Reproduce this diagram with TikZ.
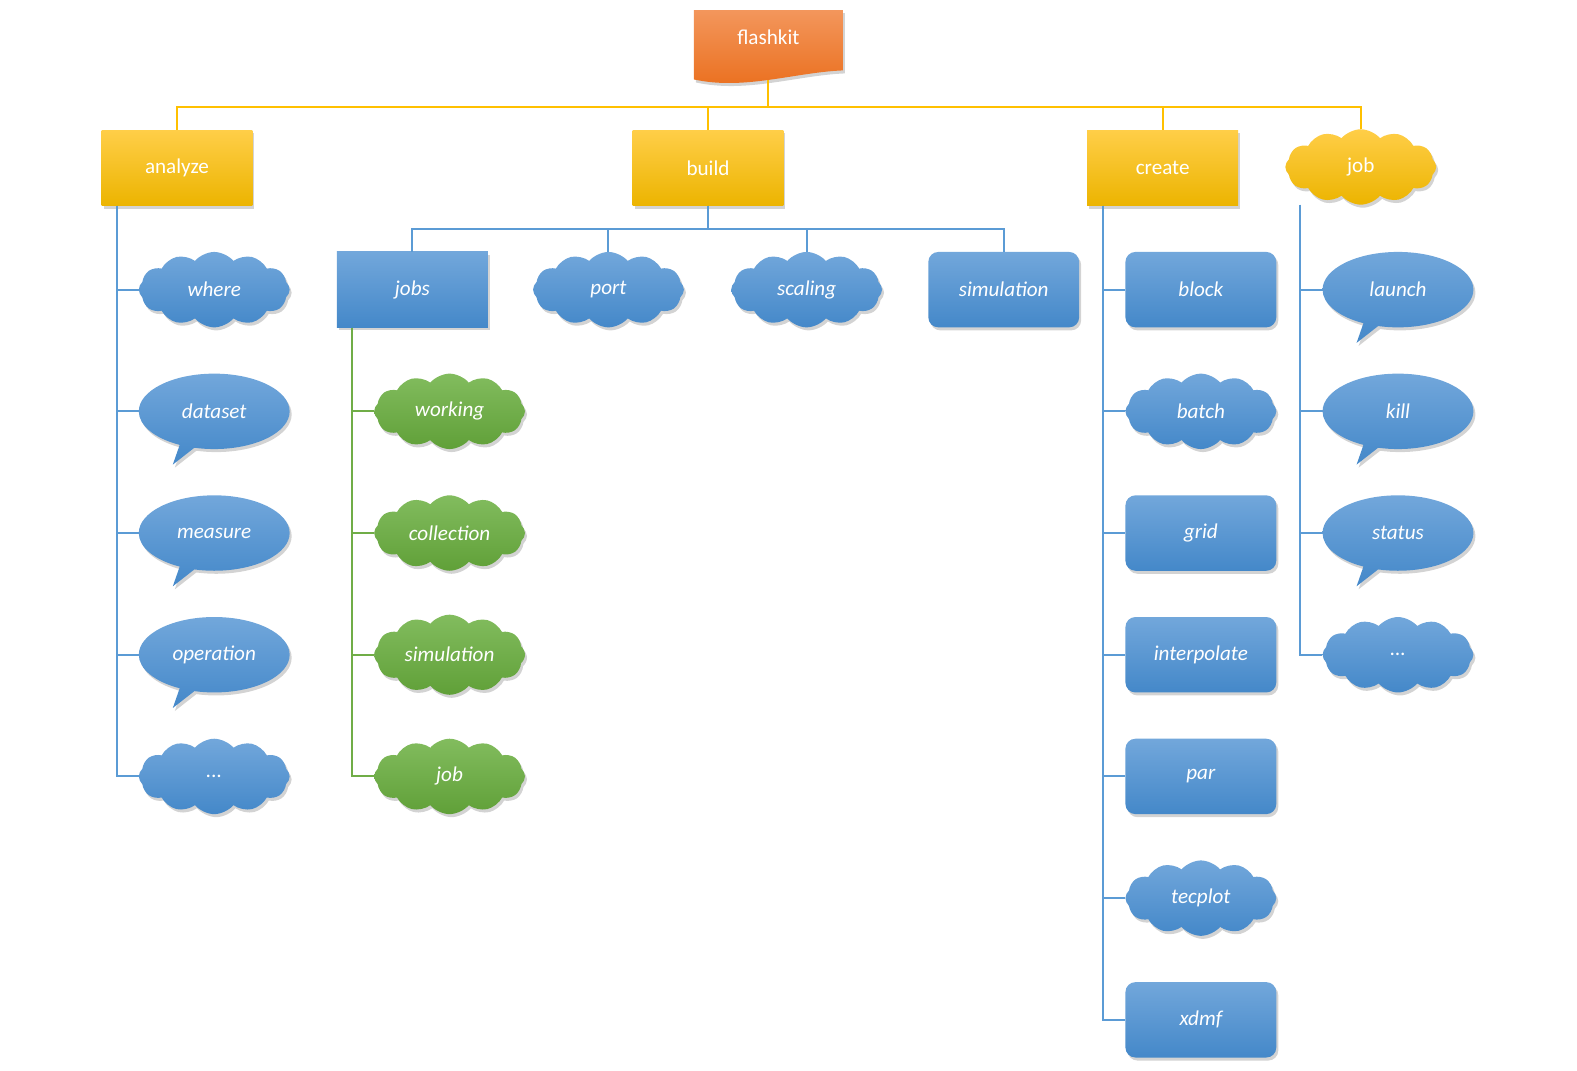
\documentclass[tikz,border=0pt]{standalone}
\usepackage{fontspec}
\setmainfont{Carlito}
\usetikzlibrary{shapes.symbols,shapes.callouts,shadows}
\definecolor{flametop}{RGB}{243,150,92}
\definecolor{flamebot}{RGB}{234,110,28}
\definecolor{goldtop}{RGB}{255,206,72}
\definecolor{goldmid}{RGB}{255,192,0}
\definecolor{goldbot}{RGB}{236,180,0}
\definecolor{skytop}{RGB}{114,167,219}
\definecolor{skymid}{RGB}{88,153,215}
\definecolor{skybot}{RGB}{68,136,201}
\definecolor{leaftop}{RGB}{130,188,94}
\definecolor{leafmid}{RGB}{112,173,71}
\definecolor{leafbot}{RGB}{96,160,56}
\definecolor{goldline}{RGB}{255,192,0}
\definecolor{skyline}{RGB}{91,155,213}
\definecolor{leafline}{RGB}{112,173,71}

\begin{document}
\begin{tikzpicture}[x=1pt, y=-1pt, font=\fontsize{21}{25}\selectfont,
    shade/.style={drop shadow={opacity=.35, shadow xshift=2pt, shadow yshift=-3pt}},
    base/.style={shade, text=white, minimum width=150pt, minimum height=75pt, inner sep=2pt},
    flame/.style={shade, top color=flametop, bottom color=flamebot},
    gold/.style={base, top color=goldtop, middle color=goldmid, bottom color=goldbot},
    sky/.style={base, font=\fontsize{21}{25}\selectfont\itshape,
      top color=skytop, middle color=skymid, bottom color=skybot},
    leaf/.style={base, font=\fontsize{21}{25}\selectfont\itshape,
      top color=leaftop, middle color=leafmid, bottom color=leafbot},
    box/.style={rectangle},
    rbox/.style={rectangle, rounded corners=10pt},
    puff/.style={cloud, cloud puffs=12, cloud puff arc=100, aspect=2},
    talk/.style={ellipse callout, callout pointer arc=12,
      callout relative pointer={(-14pt,-18pt)}},
    link/.style={line width=2pt}]
  \useasboundingbox (0,0) rectangle (1568,1064);

  % root and first level
  \path[flame] (690,10) -- (838,10) -- (838,70)
    .. controls (790,72) and (740,90) .. (690,79) -- cycle;
  \node[text=white] (flashkit) at (764,37) {flashkit};
  \coordinate (flashkit foot) at (764,80);
  \node[gold, box] (analyze) at (176,167) {analyze};
  \node[gold, box] (build) at (704,167) {build};
  \node[gold, box] (create) at (1156,167) {create};
  \node[gold, puff] (job) at (1353,166) {job};

  % analyze
  \node[sky, puff] (where) at (213,288) {where};
  \node[sky, talk] (dataset) at (213,409) {dataset};
  \node[sky, talk] (measure) at (213,530) {measure};
  \node[sky, talk] (operation) at (213,651) {operation};
  \node[sky, puff] (moreanalyze) at (213,772) {...};

  % build
  \node[sky, box] (jobs) at (410,288) {jobs};
  \node[sky, puff] (port) at (605,288) {port};
  \node[sky, puff] (scaling) at (802,288) {scaling};
  \node[sky, rbox] (simbuild) at (998,288) {simulation};
  \node[leaf, puff] (working) at (447,409) {working};
  \node[leaf, puff] (collection) at (447,530) {collection};
  \node[leaf, puff] (simjobs) at (447,651) {simulation};
  \node[leaf, puff] (jobjobs) at (447,772) {job};

  % create
  \node[sky, rbox] (block) at (1194,288) {block};
  \node[sky, puff] (batch) at (1194,409) {batch};
  \node[sky, rbox] (grid) at (1194,530) {grid};
  \node[sky, rbox] (interpolate) at (1194,651) {interpolate};
  \node[sky, rbox] (par) at (1194,772) {par};
  \node[sky, puff] (tecplot) at (1194,893) {tecplot};
  \node[sky, rbox] (xdmf) at (1194,1014) {xdmf};

  % job
  \node[sky, talk] (launch) at (1390,288) {launch};
  \node[sky, talk] (kill) at (1390,409) {kill};
  \node[sky, talk] (status) at (1390,530) {status};
  \node[sky, puff] (morejob) at (1390,651) {...};

  % connectors
  \foreach \c in {analyze,build,create,job}
    \draw[link, goldline] (flashkit foot) -- ++(0,26) -| (\c.north);
  \foreach \c in {jobs,port,scaling,simbuild}
    \draw[link, skyline] (build.south) -- ++(0,23) -| (\c.north);
  \foreach \c in {where,dataset,measure,operation,moreanalyze}
    \draw[link, skyline] ([xshift=16pt]analyze.south west) |- (\c.west);
  \foreach \c in {working,collection,simjobs,jobjobs}
    \draw[link, leafline] ([xshift=15pt]jobs.south west) |- (\c.west);
  \foreach \c in {block,batch,grid,interpolate,par,tecplot,xdmf}
    \draw[link, skyline] ([xshift=16pt]create.south west) |- (\c.west);
  \foreach \c in {launch,kill,status,morejob}
    \draw[link, skyline] ([xshift=-60pt]job.south) |- (\c.west);
\end{tikzpicture}
\end{document}
